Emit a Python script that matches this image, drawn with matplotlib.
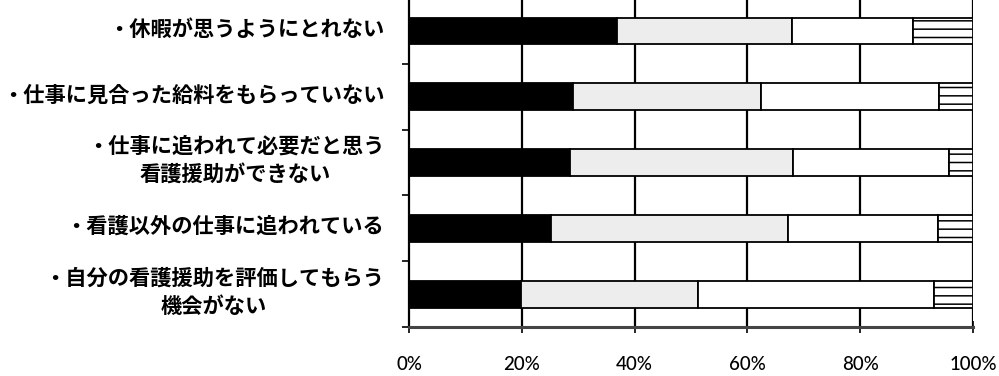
import matplotlib
matplotlib.use('Agg')
from matplotlib import pyplot as plt
import numpy as np

plt.rcParams['font.family'] = ['Noto Sans CJK JP', 'DejaVu Sans']
plt.rcParams['hatch.linewidth'] = 1.1

# questionnaire items, top to bottom
items = [
    '・休暇が思うようにとれない',
    '・仕事に見合った給料をもらっていない',
    '・仕事に追われて必要だと思う\n看護援助ができない',
    '・看護以外の仕事に追われている',
    '・自分の看護援助を評価してもらう\n機会がない',
]

# answer shares (%) per item, one list per response level
level1 = [36.9, 29.1, 28.5, 25.2, 19.9]
level2 = [31.0, 33.3, 39.6, 42.0, 31.4]
level3 = [21.5, 31.6, 27.6, 26.6, 41.8]
level4 = [10.6, 6.0, 4.3, 6.2, 6.9]

xticks = [0, 20, 40, 60, 80, 100]
xticklabels = ['0%', '20%', '40%', '60%', '80%', '100%']

fig = plt.figure(figsize=(9.99, 3.76), dpi=100)
ax = fig.add_axes([409 / 999, 1 - 327 / 376, (973 - 409) / 999, 327 / 376 + 0.005])

y = np.arange(len(items))
styles = [
    dict(color='black', hatch=None),
    dict(color='#ededed', hatch=None),
    dict(color='white', hatch=None),
    dict(color='white', hatch='--'),
]
left = np.zeros(len(items))
for vals, st in zip([level1, level2, level3, level4], styles):
    ax.barh(y, vals, left=left, height=0.41, color=st['color'], hatch=st['hatch'],
            edgecolor='black', linewidth=1.3, zorder=3)
    left += np.array(vals)

ax.set_xlim(0, 100)
ax.set_ylim(len(items) - 0.5, -0.5)

# vertical gridlines
for g in xticks[1:]:
    ax.axvline(g, color='black', lw=1.6, zorder=1)

ax.set_xticks(xticks)
ax.set_xticklabels(xticklabels, fontfamily='Lato', fontsize=13.5, fontweight='medium')
ax.tick_params(axis='x', direction='inout', length=8, width=1.2, pad=17)

ax.set_yticks(np.arange(len(items) + 1) - 0.5, minor=False)
ax.set_yticklabels([])
ax.tick_params(axis='y', direction='out', length=5, width=1.2)
for i, lab in enumerate(items):
    ax.text(-4.4, i - 0.03, lab, ha='right', va='center', multialignment='center',
            fontsize=15.3, fontweight='bold', linespacing=1.45, transform=ax.transData)

ax.spines['top'].set_visible(False)
ax.spines['right'].set_visible(False)
ax.spines['left'].set_linewidth(1.6)
ax.spines['bottom'].set_color('#444444')
ax.spines['bottom'].set_linewidth(2.2)

fig.savefig('out.png', dpi=100)
